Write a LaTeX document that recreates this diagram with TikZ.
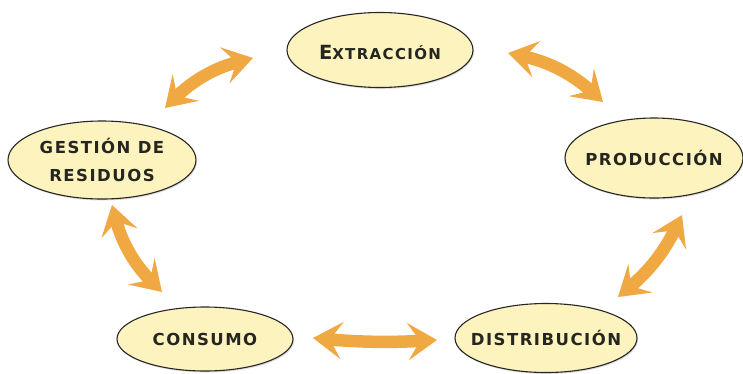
\documentclass[tikz,border=0pt]{standalone}
\usepackage{fontspec}
\usetikzlibrary{shapes.geometric,arrows.meta,shadows}
\newfontfamily\labfont[LetterSpace=9]{DejaVu Sans Bold}
\definecolor{ellfill}{HTML}{FCF3BE}
\definecolor{arrcol}{HTML}{F0A843}
\definecolor{txtcol}{HTML}{262620}
\begin{document}
\begin{tikzpicture}[x=1pt,y=-1pt,
  stage/.style={ellipse, draw=black!85, line width=1.1pt, fill=ellfill, inner sep=0pt,
    drop shadow={shadow xshift=1pt, shadow yshift=-1.5pt, opacity=0.25}},
  lab/.style={text=txtcol, align=center, inner sep=0pt, font=\labfont\fontsize{16.5}{28}\selectfont},
  cyc/.style={draw=arrcol, line width=12.5pt,
    {Stealth[length=29pt,width=37pt,inset=12pt]}-{Stealth[length=29pt,width=37pt,inset=12pt]}}]
\useasboundingbox (0,0) rectangle (743,373);
\fill[white] (0,0) rectangle (743,373);
\node[stage, minimum width=186pt, minimum height=75pt,
  label={[lab, yshift=-2pt]center:{\fontsize{19.5}{19.5}\selectfont E}{\fontsize{15}{15}\selectfont XTRACCIÓN}}] (ext) at (380,50) {};
\node[stage, minimum width=188pt, minimum height=78pt,
  label={[lab]center:GESTIÓN DE\\RESIDUOS}] (ges) at (102,160) {};
\node[stage, minimum width=178pt, minimum height=80pt,
  label={[lab]center:PRODUCCIÓN}] (pro) at (654,158) {};
\node[stage, minimum width=176pt, minimum height=64pt,
  label={[lab]center:CONSUMO}] (con) at (205,339) {};
\node[stage, minimum width=182pt, minimum height=69pt,
  label={[lab]center:DISTRIBUCIÓN}] (dis) at (546,338) {};
\coordinate (a1s) at (165,108); \coordinate (a1e) at (253,58);
\coordinate (a2s) at (508,53);  \coordinate (a2e) at (603,102);
\coordinate (a3s) at (682,215); \coordinate (a3e) at (618,297);
\coordinate (a4s) at (437,340); \coordinate (a4e) at (313,338);
\coordinate (a5s) at (162,292); \coordinate (a5e) at (112,205);
\draw[cyc] (a1s) to[bend left=15] (a1e);
\draw[cyc] (a2s) to[bend left=15] (a2e);
\draw[cyc] (a3s) to[bend left=12] (a3e);
\draw[cyc] (a4s) to[bend left=4] (a4e);
\draw[cyc] (a5s) to[bend left=15] (a5e);
\end{tikzpicture}
\end{document}
